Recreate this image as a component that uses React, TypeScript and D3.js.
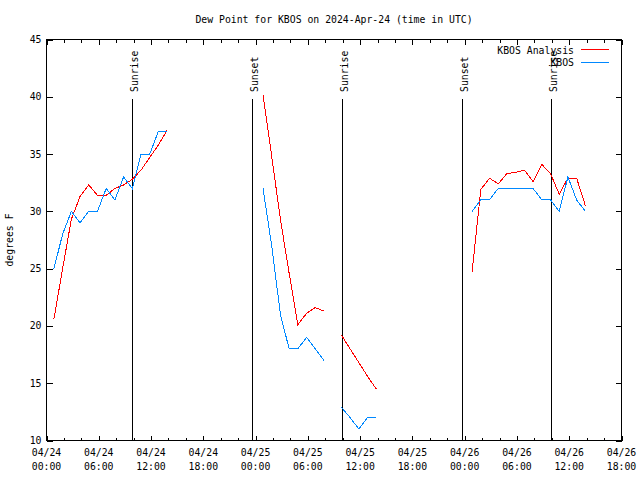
import React from "react";
import * as d3 from "d3";

const title = "Dew Point for KBOS on 2024-Apr-24 (time in UTC)";
const yLabel = "degrees F";
const seriesNames = ["KBOS Analysis", "KBOS"];
const seriesColors = ["#ff0000", "#0088ff"];

// observation time offsets (hours after 2024-04-24 00:00 UTC)
const obsHours = [
  0.85, 1.85, 2.85, 3.85, 4.85, 5.85, 6.85, 7.85, 8.85, 9.85, 10.85, 11.85, 12.85, 13.85,
  14.85, 15.85, 16.85, 17.85, 18.85, 19.85, 20.85, 21.85, 22.85, 23.85,
  24.85, 25.85, 26.85, 27.85, 28.85, 29.85, 30.85, 31.85,
  32.85,
  33.85, 34.85, 35.85, 36.85, 37.85,
  38.85, 39.85, 40.85, 41.85, 42.85, 43.85, 44.85, 45.85, 46.85, 47.85,
  48.85, 49.85, 50.85, 51.85, 52.85, 53.85, 54.85, 55.85, 56.85, 57.85, 58.85, 59.85, 60.85, 61.85,
];

const analysisValues: (number | null)[] = [
  20.6, 25.0, 29.3, 31.3, 32.3, 31.4, 31.4, 32.0, 32.3, 32.8, 33.6, 34.7, 35.8, 37.1,
  null, null, null, null, null, null, null, null, null, null,
  40.2, 34.8, 29.3, 24.6, 20.1, 21.1, 21.6, 21.3,
  null,
  19.2, 18.0, 16.8, 15.6, 14.5,
  null, null, null, null, null, null, null, null, null, null,
  24.7, 31.9, 32.9, 32.4, 33.3, 33.4, 33.6, 32.6, 34.1, 33.3, 31.5, 32.9, 32.9, 30.5,
];

const obsValues: (number | null)[] = [
  25, 28, 30, 29, 30, 30, 32, 31, 33, 32, 35, 35, 37, 37,
  null, null, null, null, null, null, null, null, null, null,
  32, 27, 21, 18, 18, 19, 18, 17,
  null,
  12.9, 12, 11, 12, 12,
  null, null, null, null, null, null, null, null, null, null,
  30, 31, 31, 32, 32, 32, 32, 32, 31, 31, 30, 33, 31, 30,
];

const sunEvents = [
  { label: "Sunrise", hour: 9.83 },
  { label: "Sunset", hour: 23.6 },
  { label: "Sunrise", hour: 33.88 },
  { label: "Sunset", hour: 47.65 },
  { label: "Sunrise", hour: 57.95 },
];

const xTickHours = [0, 6, 12, 18, 24, 30, 36, 42, 48, 54, 60, 66];
const xTickLabels = [
  ["04/24", "00:00"], ["04/24", "06:00"], ["04/24", "12:00"], ["04/24", "18:00"],
  ["04/25", "00:00"], ["04/25", "06:00"], ["04/25", "12:00"], ["04/25", "18:00"],
  ["04/26", "00:00"], ["04/26", "06:00"], ["04/26", "12:00"], ["04/26", "18:00"],
];
const yTicks = [10, 15, 20, 25, 30, 35, 40, 45];

const W = 640, H = 480;
const L = 46.5, R = 621.5, T = 39.5, B = 440.5;
const FONT = "'DejaVu Sans Mono', monospace";
const FS = 9.8;

export default function App() {
  const x = d3.scaleLinear().domain([0, 66]).range([L, R]);
  const y = d3.scaleLinear().domain([10, 45]).range([B, T]);
  const minor = d3.range(0, 67, 2);

  const mkLine = (vals: (number | null)[]) =>
    d3.line<number>()
      .defined((i) => vals[i] !== null)
      .x((i) => x(obsHours[i]))
      .y((i) => y(vals[i] as number))(obsHours.map((_, i) => i)) || "";

  const series = [analysisValues, obsValues];

  return (
    <svg width={W} height={H} style={{ position: "absolute", left: 0, top: 0, background: "#fff" }}
      fontFamily={FONT} fontSize={FS}>
      <rect x={0} y={0} width={W} height={H} fill="#fff" />
      <text x={(L + R) / 2} y={23} textAnchor="middle">{title}</text>
      <text transform={`translate(13,${(T + B) / 2}) rotate(-90)`} textAnchor="middle">{yLabel}</text>

      {/* ticks */}
      <g stroke="#000" strokeWidth={1} shapeRendering="crispEdges">
        {minor.map((h) => {
          const len = h % 6 === 0 ? 5 : 3;
          const xx = Math.round(x(h)) + 0.5;
          return (
            <g key={h}>
              <line x1={xx} x2={xx} y1={B} y2={B - len} />
              <line x1={xx} x2={xx} y1={T} y2={T + len} />
            </g>
          );
        })}
        {yTicks.map((v) => {
          const yy = Math.round(y(v)) + 0.5;
          return (
            <g key={v}>
              <line x1={L} x2={L + 6} y1={yy} y2={yy} />
              <line x1={R} x2={R - 6} y1={yy} y2={yy} />
            </g>
          );
        })}
      </g>

      {/* y tick labels */}
      {yTicks.map((v) => (
        <text key={v} x={L - 5} y={y(v) + 3.5} textAnchor="end">{v}</text>
      ))}
      {/* x tick labels */}
      {xTickHours.map((h, i) => (
        <g key={h}>
          <text x={x(h)} y={456} textAnchor="middle">{xTickLabels[i][0]}</text>
          <text x={x(h)} y={470} textAnchor="middle">{xTickLabels[i][1]}</text>
        </g>
      ))}

      {/* sun events */}
      {sunEvents.map((e, i) => {
        const xx = Math.round(x(e.hour)) + 0.5;
        return (
          <g key={i}>
            <line x1={xx} x2={xx} y1={99} y2={B} stroke="#000" strokeWidth={1} shapeRendering="crispEdges" />
            <text transform={`translate(${xx + 5},92) rotate(-90)`} textAnchor="start">{e.label}</text>
          </g>
        );
      })}

      {/* series */}
      {series.map((vals, i) => (
        <path key={i} d={mkLine(vals)} fill="none" stroke={seriesColors[i]} strokeWidth={1} shapeRendering="crispEdges" />
      ))}

      {/* legend */}
      {seriesNames.map((n, i) => (
        <g key={n}>
          <text x={574} y={53.5 + i * 12.5} textAnchor="end">{n}</text>
          <line x1={581} x2={609} y1={49.5 + i * 12.5} y2={49.5 + i * 12.5} stroke={seriesColors[i]} strokeWidth={1} shapeRendering="crispEdges" />
        </g>
      ))}

      {/* border */}
      <rect x={L} y={T} width={R - L} height={B - T} fill="none" stroke="#000" strokeWidth={1} shapeRendering="crispEdges" />
    </svg>
  );
}
